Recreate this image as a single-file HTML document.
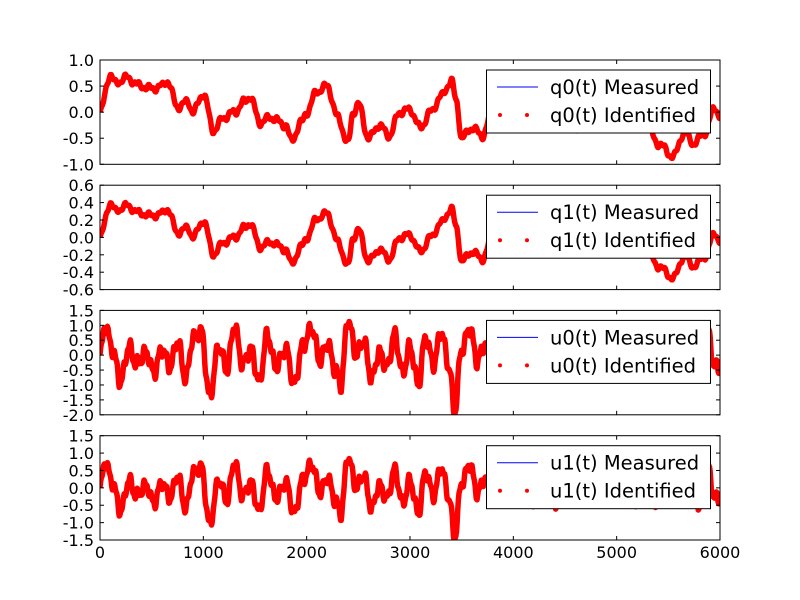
<!DOCTYPE html>
<html><head><meta charset="utf-8"><style>
body{margin:0;background:#fff;}
svg{display:block;font-family:"DejaVu Sans","Liberation Sans",sans-serif;}
</style></head><body>
<svg id="s" width="800" height="600" xmlns="http://www.w3.org/2000/svg">
<rect width="800" height="600" fill="#fff"/>
</svg>
<script>
const S=document.getElementById('s');const NS='http://www.w3.org/2000/svg';
function el(t,a,txt){const e=document.createElementNS(NS,t);for(const k in a)e.setAttribute(k,a[k]);if(txt!==undefined)e.textContent=txt;S.appendChild(e);return e;}
const L=100,R=720;
const axes=[
 {top:60,bot:164.3,ymin:-1,ymax:1,ticks:[-1,-0.5,0,0.5,1],name:'q0'},
 {top:185.2,bot:289.6,ymin:-0.6,ymax:0.6,ticks:[-0.6,-0.4,-0.2,0,0.2,0.4,0.6],name:'q1'},
 {top:310.4,bot:414.8,ymin:-2,ymax:1.5,ticks:[-2,-1.5,-1,-0.5,0,0.5,1,1.5],name:'u0'},
 {top:435.7,bot:540,ymin:-1.5,ymax:1.5,ticks:[-1.5,-1,-0.5,0,0.5,1,1.5],name:'u1'}];
const qk=[[0,0],[100,0.72],[150,0.55],[250,0.66],[400,0.5],[500,0.45],[600,0.5],[650,0.6],[750,0.1],[850,0.2],[900,0.0],[1000,0.35],[1100,-0.35],[1200,-0.1],[1300,0.0],[1400,0.2],[1450,0.3],[1550,-0.2],[1650,-0.1],[1800,-0.25],[1850,-0.55],[1950,-0.2],[2000,0.0],[2100,0.4],[2200,0.5],[2300,-0.1],[2400,-0.6],[2450,0.0],[2500,0.15],[2600,-0.5],[2700,-0.25],[2800,-0.45],[2900,0.0],[3000,0.05],[3100,-0.3],[3200,0.0],[3300,0.3],[3400,0.6],[3450,0.2],[3500,-0.5],[3600,-0.3],[3700,-0.45],[3800,0.0],[4000,0.2],[4200,-0.2],[4400,0.1],[4600,-0.3],[4800,0.2],[5000,-0.1],[5200,0.35],[5250,0.7],[5300,-0.3],[5400,-0.6],[5550,-0.85],[5650,-0.4],[5750,-0.6],[5850,-0.4],[5950,0.1],[6000,-0.1]];
function interp(k,x){for(let i=0;i<k.length-1;i++){if(x<=k[i+1][0]){const t=(x-k[i][0])/(k[i+1][0]-k[i][0]);const c=(1-Math.cos(Math.PI*t))/2;return k[i][1]*(1-c)+k[i+1][1]*c;}}return k[k.length-1][1];}
const uk=[[0,0],[50,1.0],[120,0.2],[200,-0.9],[280,0.3],[350,-0.3],[450,0.1],[520,-0.6],[600,0.2],[680,-0.4],[750,0.5],[830,-0.8],[900,0.6],[980,0.8],[1060,-1.4],[1150,0.3],[1230,-0.5],[1300,1.0],[1380,-0.3],[1460,0.2],[1540,-0.9],[1620,0.7],[1700,-0.4],[1800,0.2],[1880,-1.0],[1960,0.3],[2050,0.9],[2130,-0.2],[2200,0.4],[2280,-0.5],[2330,-1.0],[2400,1.2],[2480,0.0],[2550,0.5],[2630,-0.8],[2700,0.1],[2780,-0.4],[2850,0.7],[2930,-0.6],[3000,0.3],[3080,-1.0],[3150,0.6],[3230,-0.3],[3300,0.8],[3380,-0.4],[3430,-1.9],[3500,0.2],[3580,0.9],[3650,-0.2],[3730,0.4],[3800,-0.6],[3900,0.3],[4000,-0.3],[4100,0.4],[4200,-0.5],[4300,0.3],[4400,-0.6],[4500,0.4],[4600,-0.4],[4700,0.3],[4800,-0.6],[4900,0.5],[5000,-0.4],[5100,0.4],[5200,-0.7],[5300,0.3],[5400,-0.6],[5500,0.2],[5600,-0.5],[5700,0.3],[5800,-0.6],[5870,1.0],[5950,-0.4],[6000,-0.4]];
function q0(x){return interp(qk,x)+0.05*Math.sin(x/18)+0.03*Math.sin(x/7.3);}
function u0(x){return interp(uk,x)+0.18*Math.sin(x/11)+0.1*Math.sin(x/5.1);}
const fns=[q0,x=>0.55*q0(x),u0,x=>0.75*u0(x)];
axes.forEach((a,i)=>{
 const ys=v=>a.bot-(v-a.ymin)/(a.ymax-a.ymin)*(a.bot-a.top);
 const xs=v=>L+v/6000*(R-L);
 const cid='c'+i;
 const cp=el('clipPath',{id:cid});const r=document.createElementNS(NS,'rect');r.setAttribute('x',L);r.setAttribute('y',a.top);r.setAttribute('width',R-L);r.setAttribute('height',a.bot-a.top);cp.appendChild(r);
 let p=[];for(let x=0;x<=6000;x+=6){p.push(xs(x).toFixed(1)+','+ys(fns[i](x)).toFixed(1));}
 el('polyline',{points:p.join(' '),fill:'none',stroke:'#ff0000','stroke-width':5.5,'stroke-linejoin':'round','clip-path':'url(#'+cid+')'});
 el('rect',{x:L,y:a.top,width:R-L,height:a.bot-a.top,fill:'none',stroke:'#000','stroke-width':1});
 a.ticks.forEach(t=>{const y=ys(t);
  el('line',{x1:L,x2:L+4,y1:y,y2:y,stroke:'#000'});el('line',{x1:R,x2:R-4,y1:y,y2:y,stroke:'#000'});
  el('text',{x:L-6,y:y+6,'text-anchor':'end','font-size':16},t.toFixed(1));});
 for(let x=0;x<=6000;x+=1000){const X=xs(x);el('line',{x1:X,x2:X,y1:a.bot,y2:a.bot-4,stroke:'#000'});el('line',{x1:X,x2:X,y1:a.top,y2:a.top+4,stroke:'#000'});
  if(i==3)el('text',{x:X,y:558,'text-anchor':'middle','font-size':16},x);}
 const ly=a.top+10;
 el('rect',{x:486.5,y:ly,width:224,height:63,fill:'#fff',stroke:'#000'});
 el('line',{x1:497,x2:538,y1:ly+17,y2:ly+17,stroke:'#0000ff'});
 el('circle',{cx:500,cy:ly+45,r:2,fill:'#ff0000'});el('circle',{cx:527,cy:ly+45,r:2,fill:'#ff0000'});
 el('text',{x:550,y:ly+24,'font-size':19.5},a.name+'(t) Measured');
 el('text',{x:550,y:ly+52,'font-size':19.5},a.name+'(t) Identified');
});
</script>
</body></html>
